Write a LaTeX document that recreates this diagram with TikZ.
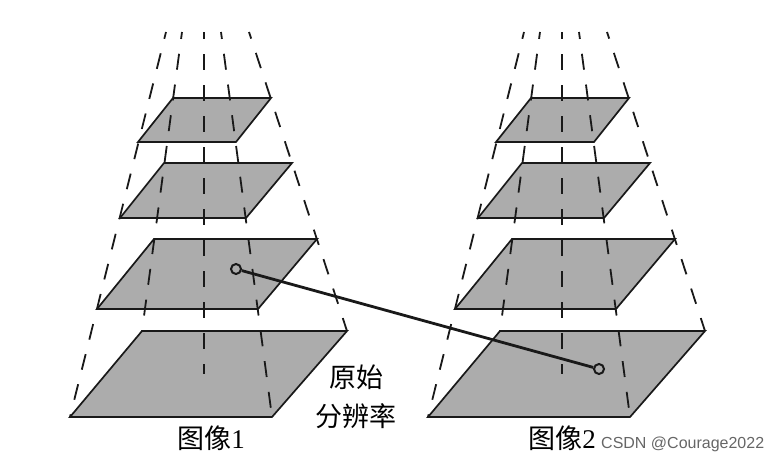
\documentclass[tikz,border=0pt]{standalone}
\usepackage{fontspec}
\setmainfont{Liberation Serif}
\newfontfamily\cjk{Noto Sans CJK SC}
\newfontfamily\wmfont{Liberation Sans}
\usepackage{tikz}
\definecolor{planegray}{RGB}{172,172,172}
\definecolor{inkgray}{RGB}{25,25,25}

\begin{document}
\begin{tikzpicture}[
    x=1pt, y=-1pt,
    plane/.style={fill=planegray, draw=inkgray, line width=1.7pt},
    guide/.style={draw=inkgray, line width=1.8pt, dash pattern=on 16pt off 15pt, dash phase=9pt},
    link/.style={draw=inkgray, line width=2.8pt},
    dot/.style={circle, draw=inkgray, fill=planegray, line width=2pt,
        minimum size=10pt, inner sep=0pt},
    lbl/.style={font=\fontsize{27}{39}\selectfont, inner sep=0pt}
]
\useasboundingbox (0,0) rectangle (781,463);

% two pyramids, the right one shifted by 358
\foreach \dx in {0,358}{
\begin{scope}[xshift=\dx pt]
  \foreach \yt/\yb/\tl/\tr/\bl/\br in {98/142/173/271/138/236, 163/218/164/292/120/246,
      239/309/154/317/97/258, 331/417/142/347/70/272}
    \filldraw[plane] (\bl,\yb) -- (\br,\yb) -- (\tr,\yt) -- (\tl,\yt) -- cycle;
  \foreach \xa/\xb/\yb in {166/70/417, 182/142/331, 204/204/374, 221/272/417, 249/347/331}
    \draw[guide] (\xa,32) -- (\xb,\yb);
\end{scope}
}

% matched point
\node[dot] (p1) at (236,269) {};
\node[dot] (p2) at (599,369) {};
\draw[link] (p1) -- (p2);

\node[lbl, align=center, font=\cjk\fontsize{27}{39}\selectfont] (res) at (356,397) {原始\\分辨率};
\node[lbl] (img1) at (211,438) {{\cjk 图像}1};
\node[lbl] (img2) at (562,438) {{\cjk 图像}2};
\node[font=\wmfont\fontsize{16}{18}\selectfont, text=black!60, anchor=west, inner sep=0pt]
    (mark) at (601,444) {CSDN @Courage2022};
\end{tikzpicture}
\end{document}
